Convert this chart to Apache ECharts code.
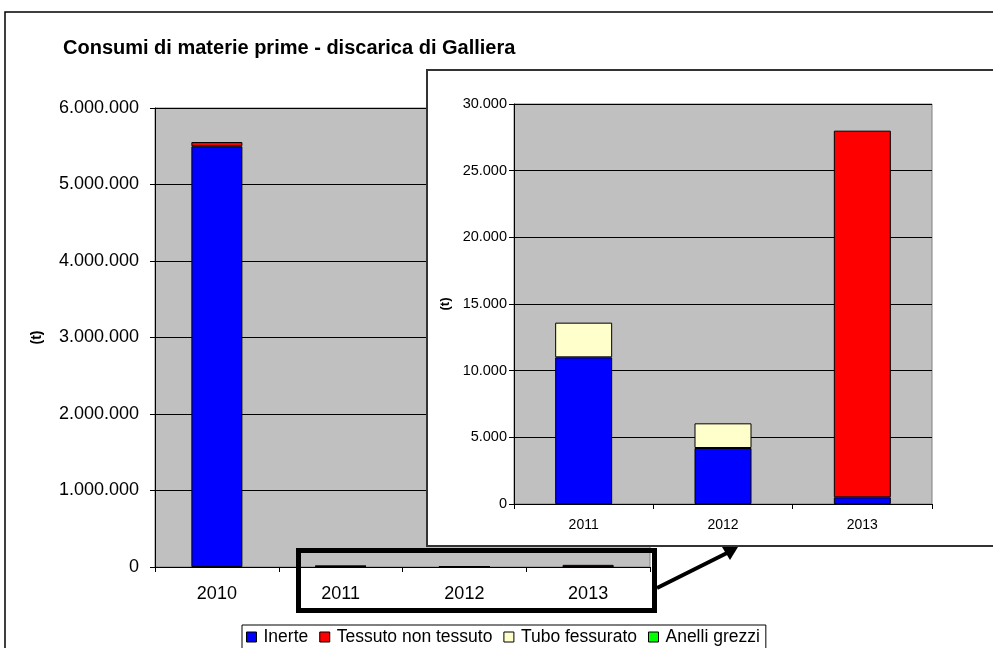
<!DOCTYPE html>
<html><head><meta charset="utf-8">
<script src="https://cdn.jsdelivr.net/npm/echarts@6/dist/echarts.min.js"></script>
<style>
html,body{margin:0;padding:0;background:#fff;overflow:hidden;}
#main{position:absolute;left:0;top:0;width:993px;height:648px;}
#inset{position:absolute;left:426px;top:69px;width:600px;height:478px;background:#fff;border:2px solid #333;box-sizing:border-box;}
#over{position:absolute;left:0;top:0;width:993px;height:648px;pointer-events:none;}
</style></head>
<body>
<div id="main"></div>
<div id="inset"></div>
<div id="over"></div>
<script>
const categories = ['2010', '2011', '2012', '2013'];
const inerte = [5500000, 11000, 4200, 500];
const tessuto = [55000, 0, 0, 27500];
const tubo = [0, 2600, 1850, 0];
const anelli = [0, 0, 0, 0];
const seriesNames = ['Inerte', 'Tessuto non tessuto', 'Tubo fessurato', 'Anelli grezzi'];
const seriesColors = ['#0000FF', '#FF0000', '#FFFFCC', '#00FF00'];
const mainTicks = [0, 1000000, 2000000, 3000000, 4000000, 5000000, 6000000];
const insetTicks = [0, 5000, 10000, 15000, 20000, 25000, 30000];
const insetFrom = 1;

const FONT = 'Liberation Sans, Arial, sans-serif';
function fmt(v){ return String(v).replace(/\B(?=(\d{3})+(?!\d))/g, '.'); }
const allData = [inerte, tessuto, tubo, anelli];

function buildSeries(from, barWidth){
  return allData.map((arr, i) => ({
    name: seriesNames[i],
    type: 'bar',
    stack: 'total',
    barWidth: barWidth,
    data: arr.slice(from).map(v => v === 0 ? '-' : v),
    itemStyle: { color: seriesColors[i], borderColor: '#000', borderWidth: 1 },
    emphasis: { disabled: true },
    animation: false
  }));
}

function yAxisCfg(ticks, fontSize, nameGap, margin, nameSize){
  return {
    type: 'value',
    min: ticks[0], max: ticks[ticks.length-1], interval: ticks[1]-ticks[0],
    name: '(t)', nameLocation: 'middle', nameRotate: 90, nameGap: nameGap,
    nameTextStyle: { fontFamily: FONT, fontSize: nameSize, fontWeight: 'bold', color: '#000' },
    axisLine: { show: true, lineStyle: { color: '#000', width: 1 } },
    axisTick: { show: true, length: 5, lineStyle: { color: '#000' } },
    axisLabel: { formatter: fmt, fontFamily: FONT, fontSize: fontSize, color: '#000', margin: margin },
    splitLine: { show: true, lineStyle: { color: '#000', width: 1 } }
  };
}
function xAxisCfg(cats, fontSize, margin){
  return {
    type: 'category', data: cats,
    axisLine: { show: true, lineStyle: { color: '#000', width: 1 } },
    axisTick: { show: true, length: 5, lineStyle: { color: '#000' } },
    axisLabel: { fontFamily: FONT, fontSize: fontSize, color: '#000', margin: margin }
  };
}

const main = echarts.init(document.getElementById('main'), null, { renderer: 'canvas' });
main.setOption({
  animation: false,
  backgroundColor: '#fff',
  title: { text: 'Consumi di materie prime - discarica di Galliera', left: 58, top: 33,
    textStyle: { fontFamily: FONT, fontSize: 20, fontWeight: 'bold', color: '#000' } },
  legend: {
    data: seriesNames, left: 242, top: 625, padding: [3, 6, 8, 4],
    itemWidth: 10, itemHeight: 10, itemGap: 11, icon: 'rect',
    borderColor: '#000', borderWidth: 1, backgroundColor: '#fff',
    textStyle: { fontFamily: FONT, fontSize: 17.5, color: '#000', padding: [0, 0, 0, 2] },
    itemStyle: { borderColor: '#000', borderWidth: 1 }
  },
  grid: { left: 155, top: 108, right: 343, bottom: 81, show: true, backgroundColor: '#C0C0C0', borderColor: '#808080', borderWidth: 1 },
  xAxis: xAxisCfg(categories, 18, 18),
  yAxis: yAxisCfg(mainTicks, 18, 111, 16, 14),
  series: buildSeries(0, 51),
  graphic: [
    { type: 'rect', shape: { x: 5, y: 12, width: 1200, height: 1000 }, style: { fill: 'none', stroke: '#000', lineWidth: 1.5 }, z: 100 }
  ]
});

const inset = echarts.init(document.getElementById('inset'), null, { renderer: 'canvas' });
inset.setOption({
  animation: false,
  backgroundColor: '#fff',
  grid: { left: 86, top: 33, right: 92, bottom: 41, show: true, backgroundColor: '#C0C0C0', borderColor: '#808080', borderWidth: 1 },
  xAxis: xAxisCfg(categories.slice(insetFrom), 14, 14),
  yAxis: yAxisCfg(insetTicks, 14.5, 50, 7, 13),
  series: buildSeries(insetFrom, 57)
});

const over = echarts.init(document.getElementById('over'), null, { renderer: 'canvas' });
over.setOption({
  animation: false,
  graphic: [
    { type: 'rect', shape: { x: 298.5, y: 550.5, width: 356, height: 60 }, style: { fill: 'none', stroke: '#000', lineWidth: 5 } },
    { type: 'line', shape: { x1: 657, y1: 588, x2: 727, y2: 553 }, style: { stroke: '#000', lineWidth: 4 } },
    { type: 'polygon', shape: { points: [[738, 547], [722, 547], [730, 560]] }, style: { fill: '#000' } }
  ]
});
</script>
</body></html>
